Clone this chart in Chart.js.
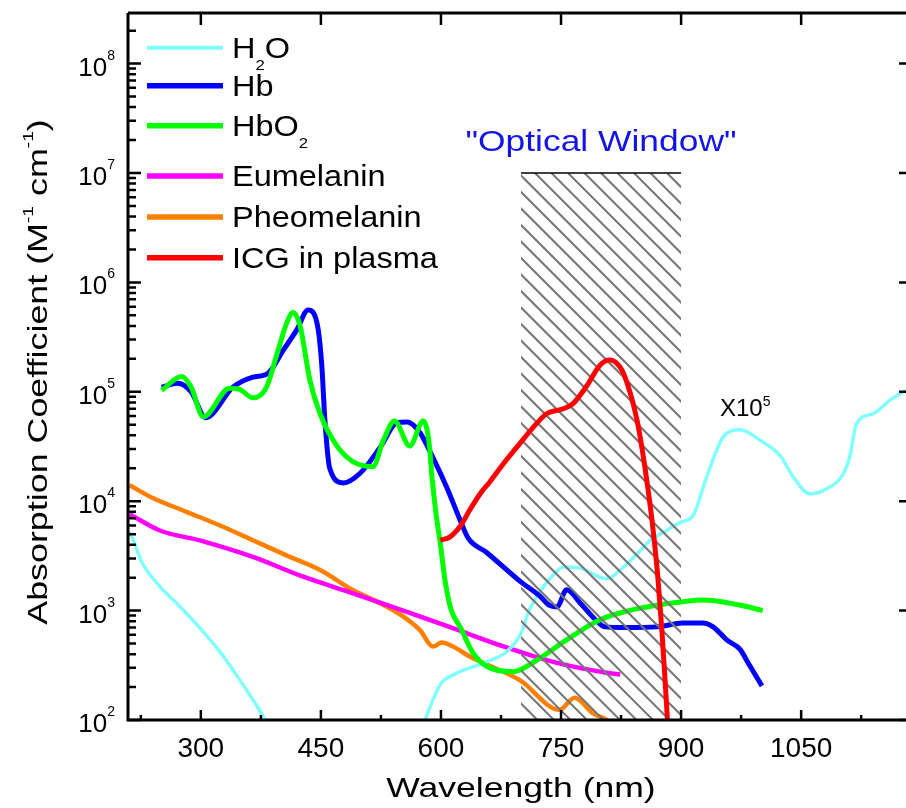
<!DOCTYPE html>
<html>
<head>
<meta charset="utf-8">
<script src="https://cdn.jsdelivr.net/npm/chart.js@4.4.1/dist/chart.umd.min.js"></script>
<style>
  html, body { margin: 0; padding: 0; background: #fff; overflow: hidden; }
  canvas { display: block; }
</style>
</head>
<body>
<canvas id="chart" width="906" height="808"></canvas>
<script>
// Absorption spectra: wavelength (nm) vs absorption coefficient (M^-1 cm^-1)
const seriesNames = ['H_{2}O', 'Hb', 'HbO_{2}', 'Eumelanin', 'Pheomelanin', 'ICG in plasma'];
const seriesColors = ['#80ffff', '#0000ff', '#00ff00', '#ff00ff', '#ff8000', '#ff0000'];

const h2oNm = [210, 214, 226, 249, 274, 299, 324, 349, 366, 378, 382, 395,
  565, 580, 600, 616, 657, 682, 700, 710, 724, 740, 753, 774, 790, 807, 824, 845, 860, 882, 899, 915,
  932, 953, 974, 999, 1024, 1040, 1061, 1082, 1103, 1111, 1119, 1140, 1161, 1178, 1195];
const h2oVal = [5200, 4700, 2800, 1660, 1090, 690, 420, 230, 150, 107, 95, 50,
  50, 100, 215, 260, 340, 420, 620, 1000, 1500, 2100, 2500, 2450, 2150, 1950, 2350, 3300, 4300, 5400, 6400, 7400,
  16700, 39000, 45000, 36000, 26000, 16700, 11700, 13000, 18000, 26000, 51000, 63000, 84000, 100000, 105000];

const hbNm = [251, 271, 288, 306, 340, 365, 384, 403, 420, 434, 445, 451, 455, 461, 478, 499, 524, 545, 558, 574,
  590, 607, 624, 634, 657, 699, 724, 735, 745, 757, 775, 795, 805, 830, 870, 902, 927, 940, 957, 974, 982, 1001];
const hbVal = [1.1e5, 1.2e5, 1.0e5, 5.8e4, 1.1e5, 1.36e5, 1.48e5, 2.4e5, 3.7e5, 5.6e5, 4.3e5, 1.8e5, 5.5e4, 2.0e4, 1.47e4, 1.8e4, 3.1e4, 5.2e4, 5.3e4, 4.2e4,
  2.5e4, 1.35e4, 6.7e3, 4.6e3, 3.4e3, 1.85e3, 1.35e3, 1.12e3, 1.08e3, 1.55e3, 1.15e3, 8.0e2, 7.1e2, 7.0e2, 7.1e2, 7.7e2, 7.7e2, 7.1e2, 5.4e2, 4.4e2, 3.5e2, 2.05e2];

const hbo2Nm = [251, 276, 288, 303, 336, 349, 365, 382, 395, 407, 415, 424, 436, 449, 470, 490, 515, 528, 542, 561,
  578, 585, 589, 594, 599, 605, 613, 624, 640, 657, 690, 719, 757, 798, 835, 869, 900, 928, 974, 1002];
const hbo2Val = [1.03e5, 1.38e5, 1.1e5, 5.9e4, 1.08e5, 1.05e5, 8.8e4, 1.1e5, 2.2e5, 4.2e5, 5.3e5, 4.0e5, 1.3e5, 6.3e4, 3.2e4, 2.3e4, 2.07e4, 3.6e4, 5.4e4, 3.2e4,
  5.4e4, 3.5e4, 1.6e4, 7.5e3, 4.2e3, 1.9e3, 1.0e3, 7.1e2, 4.1e2, 3.1e2, 2.76e2, 3.5e2, 5.4e2, 8.2e2, 1.0e3, 1.12e3, 1.2e3, 1.25e3, 1.12e3, 1.0e3];

const eumelNm = [211, 249, 303, 365, 428, 490, 553, 615, 678, 740, 807, 824];
const eumelVal = [7.6e3, 5.4e3, 4.3e3, 3.1e3, 2.04e3, 1.44e3, 1.0e3, 6.9e2, 4.7e2, 3.4e2, 2.7e2, 2.6e2];

const pheoNm = [211, 240, 282, 324, 365, 407, 449, 490, 532, 553, 574, 590, 601, 615, 636, 699, 748, 767, 790, 807, 825];
const pheoVal = [1.4e4, 1.07e4, 8.0e3, 6.0e3, 4.4e3, 3.2e3, 2.35e3, 1.54e3, 1.09e3, 8.8e2, 6.6e2, 4.7e2, 5.1e2, 4.7e2, 3.8e2, 2.3e2, 1.24e2, 1.6e2, 1.15e2, 1.0e2, 80];

const icgNm = [599, 611, 624, 636, 649, 661, 678, 699, 716, 732, 753, 765, 782, 799, 811, 826, 836, 845, 852, 858, 865, 871, 876, 880, 883, 886];
const icgVal = [4.4e3, 4.7e3, 5.9e3, 8.3e3, 1.17e4, 1.5e4, 2.2e4, 3.4e4, 4.8e4, 6.3e4, 7.0e4, 7.8e4, 1.13e5, 1.76e5, 1.95e5, 1.58e5, 1.0e5, 5.5e4, 2.8e4, 1.4e4, 5.5e3, 2.0e3, 6.6e2, 2.3e2, 1.0e2, 50];

const xMajorTicks = [300, 450, 600, 750, 900, 1050, 1200];
const xMinorTicks = [225, 375, 525, 675, 825, 975, 1125];
const yExponents = [2, 3, 4, 5, 6, 7, 8];
const windowRange = [700, 900];
const windowTop = 1e7;

const FONT = '"Liberation Sans", Arial, sans-serif';

function toPoints(xs, ys) {
    return xs.map((x, i) => ({ x: x, y: ys[i] }));
}

// split "H_{2}O" / "10^{5}" into normal, sub and sup runs
function parseRuns(str) {
    const runs = [];
    const re = /([_^])\{([^}]*)\}/g;
    let last = 0, m;
    while ((m = re.exec(str))) {
        if (m.index > last) runs.push({ t: str.slice(last, m.index), k: '' });
        runs.push({ t: m[2], k: m[1] });
        last = re.lastIndex;
    }
    if (last < str.length) runs.push({ t: str.slice(last), k: '' });
    return runs;
}

function drawText(ctx, str, x, y, o) {
    const runs = parseRuns(str);
    ctx.save();
    ctx.translate(x, y);
    if (o.rot) ctx.rotate(o.rot);
    ctx.scale(o.sx || 1, 1);
    ctx.fillStyle = o.color || '#000';
    ctx.textBaseline = 'alphabetic';
    ctx.textAlign = 'left';
    const fontOf = k => (k ? o.small : o.size) + 'px ' + FONT;
    let total = 0;
    runs.forEach(r => { ctx.font = fontOf(r.k); r.w = ctx.measureText(r.t).width; total += r.w; });
    let cx = o.align === 'center' ? -total / 2 : (o.align === 'right' ? -total : 0);
    runs.forEach(r => {
        ctx.font = fontOf(r.k);
        const dy = r.k === '^' ? -(o.raise || 0) : (r.k === '_' ? (o.drop || 0) : 0);
        ctx.fillText(r.t, cx, dy);
        cx += r.w;
    });
    ctx.restore();
}

function drawWindow(chart) {
    const ctx = chart.ctx;
    const xs = chart.scales.x, ys = chart.scales.y;
    const x0 = xs.getPixelForValue(windowRange[0]);
    const x1 = xs.getPixelForValue(windowRange[1]);
    const y0 = ys.getPixelForValue(windowTop);
    const y1 = chart.chartArea.bottom;
    const h = y1 - y0;
    ctx.save();
    ctx.beginPath();
    ctx.rect(x0, y0, x1 - x0, h);
    ctx.clip();
    ctx.beginPath();
    ctx.strokeStyle = '#767676';
    ctx.lineWidth = 2;
    for (let k = x0 - h; k < x1; k += 16.5) {
        ctx.moveTo(k, y0);
        ctx.lineTo(k + h, y1);
    }
    ctx.stroke();
    ctx.restore();
    ctx.save();
    ctx.beginPath();
    ctx.strokeStyle = '#000';
    ctx.lineWidth = 1.5;
    ctx.moveTo(x0, y0);
    ctx.lineTo(x1, y0);
    ctx.stroke();
    ctx.restore();
}

function drawAxes(chart) {
    const ctx = chart.ctx;
    const a = chart.chartArea;
    const xs = chart.scales.x, ys = chart.scales.y;
    ctx.save();
    ctx.strokeStyle = '#000';
    ctx.lineWidth = 3;
    ctx.beginPath();
    ctx.moveTo(a.left, a.top); ctx.lineTo(a.right, a.top);
    ctx.moveTo(a.left, a.top); ctx.lineTo(a.left, a.bottom);
    ctx.moveTo(a.left - 1.5, a.bottom); ctx.lineTo(a.right, a.bottom);
    ctx.stroke();

    ctx.lineWidth = 2.5;
    ctx.beginPath();
    xMajorTicks.forEach(v => {
        const px = xs.getPixelForValue(v);
        if (px > a.right) return;
        ctx.moveTo(px, a.bottom); ctx.lineTo(px, a.bottom - 10);
        ctx.moveTo(px, a.top); ctx.lineTo(px, a.top + 12);
    });
    xMinorTicks.forEach(v => {
        const px = xs.getPixelForValue(v);
        if (px > a.right) return;
        ctx.moveTo(px, a.bottom); ctx.lineTo(px, a.bottom - 5);
    });
    yExponents.forEach(e => {
        const py = ys.getPixelForValue(Math.pow(10, e));
        ctx.moveTo(a.left, py); ctx.lineTo(a.left + 13, py);
        ctx.moveTo(a.right, py); ctx.lineTo(a.right - 7, py);
        for (let m = 2; m <= 9; m++) {
            const v = m * Math.pow(10, e);
            if (v > ys.max) break;
            const pm = ys.getPixelForValue(v);
            ctx.moveTo(a.left, pm); ctx.lineTo(a.left + 8, pm);
        }
    });
    ctx.stroke();
    ctx.restore();

    // tick labels
    xMajorTicks.forEach(v => {
        const px = xs.getPixelForValue(v);
        if (px > a.right - 20) return;
        drawText(ctx, String(v), px, a.bottom + 37, { size: 28, align: 'center' });
    });
    yExponents.forEach(e => {
        const py = ys.getPixelForValue(Math.pow(10, e));
        drawText(ctx, '10^{' + e + '}', 115, py + 12, { size: 26, small: 14, raise: 16, align: 'right' });
    });

    // axis titles
    drawText(ctx, 'Wavelength (nm)', 521, 797, { size: 28, align: 'center', sx: 1.27 });
    drawText(ctx, 'Absorption Coefficient (M^{-1} cm^{-1})', 47, 372,
        { size: 28, small: 15, raise: 14, align: 'center', sx: 1.28, rot: -Math.PI / 2 });
}

function drawLegend(chart) {
    const ctx = chart.ctx;
    const rows = [47.7, 85.7, 125.7, 176, 217, 257.7];
    chart.data.datasets.forEach((ds, i) => {
        const y = rows[i];
        ctx.save();
        ctx.strokeStyle = ds.borderColor;
        ctx.lineWidth = i === 0 ? 4 : 5.5;
        ctx.beginPath();
        ctx.moveTo(147, y);
        ctx.lineTo(223, y);
        ctx.stroke();
        ctx.restore();
        drawText(ctx, seriesNames[i], 232, y + 10, { size: 29, small: 15, drop: 12, sx: 1.12 });
    });
}

function drawNotes(chart) {
    const ctx = chart.ctx;
    drawText(ctx, '"Optical Window"', 601, 151, { size: 30, align: 'center', sx: 1.18, color: '#1414e6' });
    drawText(ctx, 'X10^{5}', 720, 416, { size: 24, small: 14, raise: 10 });
}

const decorations = {
    id: 'decorations',
    beforeDatasetDraw(chart, args) {
        // the hatched window sits above every curve except ICG
        if (chart.data.datasets[args.index].label === 'ICG in plasma') drawWindow(chart);
    },
    afterDraw(chart) {
        drawAxes(chart);
        drawLegend(chart);
        drawNotes(chart);
    }
};

new Chart(document.getElementById('chart'), {
    type: 'line',
    data: {
        datasets: [
            { label: 'H2O', data: toPoints(h2oNm, h2oVal), borderColor: seriesColors[0], borderWidth: 3.5, order: 3 },
            { label: 'Hb', data: toPoints(hbNm, hbVal), borderColor: seriesColors[1], borderWidth: 5, order: 2 },
            { label: 'HbO2', data: toPoints(hbo2Nm, hbo2Val), borderColor: seriesColors[2], borderWidth: 5, order: 1 },
            { label: 'Eumelanin', data: toPoints(eumelNm, eumelVal), borderColor: seriesColors[3], borderWidth: 4.5, order: 4 },
            { label: 'Pheomelanin', data: toPoints(pheoNm, pheoVal), borderColor: seriesColors[4], borderWidth: 4.5, order: 5 },
            { label: 'ICG in plasma', data: toPoints(icgNm, icgVal), borderColor: seriesColors[5], borderWidth: 5, order: 0 }
        ]
    },
    options: {
        responsive: false,
        animation: false,
        devicePixelRatio: 1,
        layout: { padding: { left: 128, top: 13, right: 0, bottom: 88 } },
        plugins: { legend: { display: false }, tooltip: { enabled: false } },
        elements: {
            point: { radius: 0 },
            line: { cubicInterpolationMode: 'monotone', fill: false, borderJoinStyle: 'round' }
        },
        scales: {
            x: { type: 'linear', min: 209, max: 1181, display: false },
            y: { type: 'logarithmic', min: 100, max: 2.9e8, display: false }
        }
    },
    plugins: [decorations]
});
</script>
</body>
</html>
